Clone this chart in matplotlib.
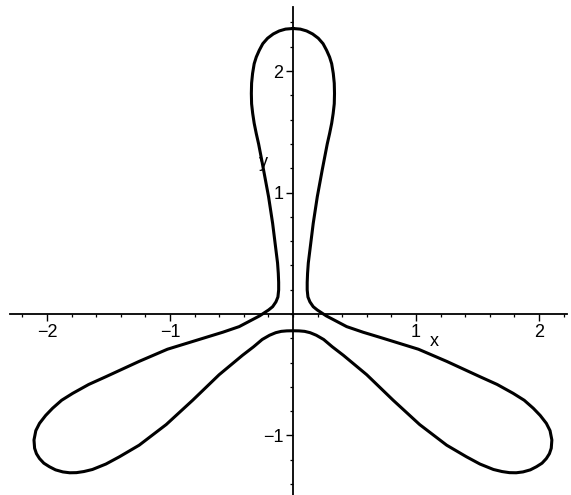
import matplotlib
matplotlib.use("Agg")
import matplotlib.pyplot as plt
from matplotlib.ticker import MultipleLocator, FixedLocator

# Traced curve, right half: from top of upper lobe, down the neck, around the right lobe,
# back to the bottom centre
right_x = [0.0, 0.06, 0.111, 0.16, 0.206, 0.245, 0.274, 0.298, 0.315, 0.328, 0.336, 0.338,
           0.336, 0.327, 0.315, 0.298, 0.279, 0.258, 0.238, 0.198, 0.165, 0.138, 0.125, 0.119,
           0.116, 0.116, 0.122, 0.138, 0.165, 0.198, 0.235, 0.27, 0.35, 0.437, 0.57, 0.707,
           0.86, 1.02, 1.25, 1.52, 1.66, 1.79, 1.88, 1.954, 2.01, 2.06, 2.09, 2.105, 2.10,
           2.085, 2.06, 2.025, 1.98, 1.93, 1.87, 1.815, 1.76, 1.70, 1.63, 1.52, 1.41, 1.25,
           1.03, 0.815, 0.60, 0.41, 0.32, 0.25, 0.19, 0.14, 0.095, 0.05, 0.0]
right_y = [2.35, 2.345, 2.33, 2.305, 2.27, 2.225, 2.17, 2.115, 2.06, 1.98, 1.90, 1.815,
           1.73, 1.65, 1.57, 1.485, 1.40, 1.29, 1.185, 0.965, 0.746, 0.527, 0.42, 0.335,
           0.26, 0.198, 0.14, 0.10, 0.06, 0.033, 0.008, -0.015, -0.058, -0.104, -0.15, -0.192,
           -0.24, -0.29, -0.39, -0.516, -0.58, -0.653, -0.71, -0.776, -0.835, -0.90, -0.96,
           -1.037, -1.105, -1.15, -1.19, -1.228, -1.257, -1.283, -1.30, -1.307, -1.306, -1.297,
           -1.28, -1.235, -1.175, -1.08, -0.91, -0.71, -0.50, -0.34, -0.27, -0.21, -0.175,
           -0.154, -0.143, -0.139, -0.138]

# Left half: from the bottom centre, around the left lobe, up the neck, back to the top
left_x = [-0.05, -0.095, -0.14, -0.19, -0.25, -0.32, -0.41, -0.60, -0.815, -1.03, -1.25,
          -1.41, -1.52, -1.63, -1.70, -1.76, -1.815, -1.87, -1.93, -1.98, -2.025, -2.06,
          -2.085, -2.10, -2.105, -2.09, -2.06, -2.01, -1.954, -1.88, -1.79, -1.66, -1.52,
          -1.25, -1.02, -0.86, -0.707, -0.57, -0.437, -0.35, -0.27, -0.235, -0.198, -0.165,
          -0.138, -0.122, -0.116, -0.116, -0.119, -0.125, -0.138, -0.165, -0.198, -0.238,
          -0.258, -0.279, -0.298, -0.315, -0.327, -0.336, -0.338, -0.336, -0.328, -0.315,
          -0.298, -0.274, -0.245, -0.206, -0.16, -0.111, -0.06, 0.0]
left_y = [-0.139, -0.143, -0.154, -0.175, -0.21, -0.27, -0.34, -0.50, -0.71, -0.91, -1.08,
          -1.175, -1.235, -1.28, -1.297, -1.306, -1.307, -1.30, -1.283, -1.257, -1.228, -1.19,
          -1.15, -1.105, -1.037, -0.96, -0.90, -0.835, -0.776, -0.71, -0.653, -0.58, -0.516,
          -0.39, -0.29, -0.24, -0.192, -0.15, -0.104, -0.058, -0.015, 0.008, 0.033, 0.06,
          0.10, 0.14, 0.198, 0.26, 0.335, 0.42, 0.527, 0.746, 0.965, 1.185, 1.29, 1.40,
          1.485, 1.57, 1.65, 1.73, 1.815, 1.90, 1.98, 2.06, 2.115, 2.17, 2.225, 2.27, 2.305,
          2.33, 2.345, 2.35]

x_ticks = [-2, -1, 1, 2]
x_tick_labels = ["\u22122", "\u22121", "1", "2"]
y_ticks = [-1, 1, 2]
y_tick_labels = ["\u22121", "1", "2"]

plt.rcParams['font.family'] = ['Liberation Sans', 'DejaVu Sans']

W, H = 571, 495
fig = plt.figure(figsize=(W / 100, H / 100), dpi=100)
ax = fig.add_axes([10 / W, 0, 557 / W, 488 / H])
ax.set_xlim(-2.30, 2.228)
ax.set_ylim(-1.49, 2.527)

ax.plot(right_x + left_x, right_y + left_y, color='black', lw=2.2,
        solid_joinstyle='round', solid_capstyle='round')

for s in ['top', 'right']:
    ax.spines[s].set_visible(False)
ax.spines['left'].set_position(('data', 0))
ax.spines['bottom'].set_position(('data', 0))
ax.spines['left'].set_linewidth(1.3)
ax.spines['bottom'].set_linewidth(1.3)

ax.xaxis.set_major_locator(FixedLocator(x_ticks))
ax.set_xticklabels(x_tick_labels)
ax.yaxis.set_major_locator(FixedLocator(y_ticks))
ax.set_yticklabels(y_tick_labels)
ax.xaxis.set_minor_locator(MultipleLocator(0.2))
ax.yaxis.set_minor_locator(MultipleLocator(0.2))
ax.tick_params(which='major', direction='out', length=5, width=1, labelsize=13, pad=2)
ax.tick_params(which='minor', direction='out', length=2.5, width=0.9)

ax.text(1.15, -0.23, "x", fontsize=13, ha='center', va='center')
ax.text(-0.24, 1.25, "y", fontsize=13, ha='center', va='center')

fig.savefig("out.png", dpi=100)
